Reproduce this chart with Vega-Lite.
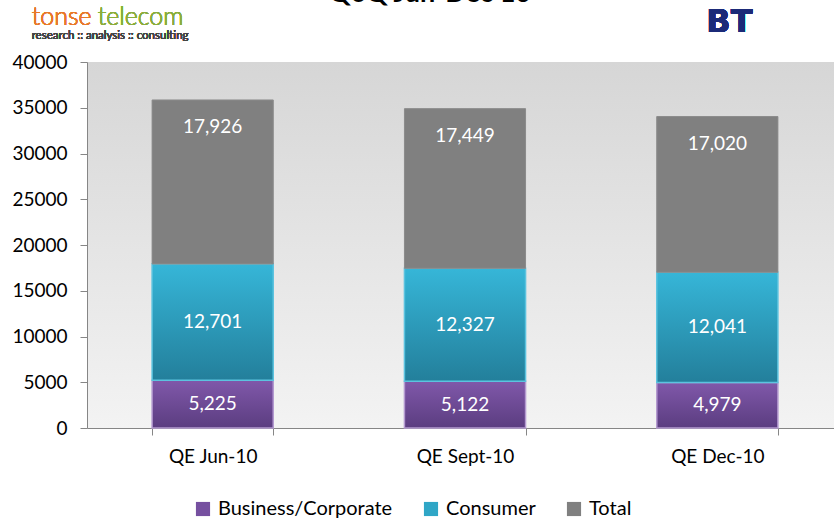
{
  "$schema": "https://vega.github.io/schema/vega-lite/v6.json",
  "autosize": "none",
  "width": 756,
  "height": 366,
  "padding": {"left": 87, "top": 62, "right": 0, "bottom": 91},
  "background": "#ffffff",
  "config": {
    "font": "Lato",
    "view": {
      "stroke": null,
      "fill": {"gradient": "linear", "x1": 0, "y1": 0, "x2": 0, "y2": 1, "stops": [{"offset": 0, "color": "#d6d6d6"}, {"offset": 1, "color": "#f3f3f3"}]}
    }
  },
  "title": {
    "text": "QoQ Jun-Dec 10",
    "fontSize": 27,
    "fontWeight": "bold",
    "color": "#000000",
    "anchor": "middle",
    "frame": "group",
    "baseline": "alphabetic",
    "offset": 0,
    "dy": 24,
    "dx": -35
  },
  "data": {
    "values": [
      {"quarter": "QE Jun-10", "series": "Business/Corporate", "value": 5225},
      {"quarter": "QE Jun-10", "series": "Consumer", "value": 12701},
      {"quarter": "QE Jun-10", "series": "Total", "value": 17926},
      {"quarter": "QE Sept-10", "series": "Business/Corporate", "value": 5122},
      {"quarter": "QE Sept-10", "series": "Consumer", "value": 12327},
      {"quarter": "QE Sept-10", "series": "Total", "value": 17449},
      {"quarter": "QE Dec-10", "series": "Business/Corporate", "value": 4979},
      {"quarter": "QE Dec-10", "series": "Consumer", "value": 12041},
      {"quarter": "QE Dec-10", "series": "Total", "value": 17020}
    ]
  },
  "transform": [
    {"stack": "value", "groupby": ["quarter"], "sort": [{"field": "series"}], "as": ["y0", "y1"]},
    {"calculate": "(datum.y0 + datum.y1) / 2", "as": "mid"}
  ],
  "encoding": {
    "x": {
      "field": "quarter",
      "type": "nominal",
      "sort": ["QE Jun-10", "QE Sept-10", "QE Dec-10"],
      "scale": {"paddingInner": 0.52, "paddingOuter": 0.258},
      "axis": {
        "title": null,
        "labelAngle": 0,
        "labelFontSize": 19,
        "labelColor": "#000000",
        "labelPadding": 12,
        "tickBand": "extent",
        "domainColor": "#868686",
        "tickColor": "#868686",
        "tickSize": 7
      }
    }
  },
  "layer": [
    {
      "mark": {"type": "bar"},
      "encoding": {
        "y": {
          "field": "y0",
          "type": "quantitative",
          "scale": {"domain": [0, 40000], "nice": false},
          "axis": {
            "title": null,
            "values": [0, 5000, 10000, 15000, 20000, 25000, 30000, 35000, 40000],
            "format": "d",
            "grid": false,
            "labelFontSize": 19,
            "labelColor": "#000000",
            "labelPadding": 13,
            "domainColor": "#868686",
            "tickColor": "#868686",
            "tickSize": 7
          }
        },
        "y2": {"field": "y1"},
        "color": {
          "field": "series",
          "type": "nominal",
          "scale": {"domain": ["Business/Corporate", "Consumer", "Total"], "range": ["#7650a0", "#2fa6c6", "#808080"]},
          "legend": {
            "title": null,
            "orient": "none",
            "direction": "horizontal",
            "legendX": 106,
            "legendY": 437,
            "symbolType": "square",
            "symbolSize": 200,
            "symbolStrokeWidth": 0,
            "labelFontSize": 20,
            "labelLimit": 400,
            "labelColor": "#000000",
            "columnPadding": 28,
            "labelOffset": 5
          }
        }
      }
    },
    {
      "transform": [{"filter": "datum.series === 'Business/Corporate'"}],
      "mark": {
        "type": "bar",
        "stroke": "#b49ad0",
        "strokeWidth": 1.5,
        "color": {"gradient": "linear", "x1": 0, "y1": 0, "x2": 0, "y2": 1, "stops": [{"offset": 0, "color": "#8058aa"}, {"offset": 1, "color": "#5b3d80"}]}
      },
      "encoding": {"y": {"field": "y0", "type": "quantitative"}, "y2": {"field": "y1"}}
    },
    {
      "transform": [{"filter": "datum.series === 'Consumer'"}],
      "mark": {
        "type": "bar",
        "stroke": "#5cc3df",
        "strokeWidth": 1.5,
        "color": {"gradient": "linear", "x1": 0, "y1": 0, "x2": 0, "y2": 1, "stops": [{"offset": 0, "color": "#36b6d8"}, {"offset": 1, "color": "#237f9b"}]}
      },
      "encoding": {"y": {"field": "y0", "type": "quantitative"}, "y2": {"field": "y1"}}
    },
    {
      "transform": [{"filter": "datum.series === 'Total'"}],
      "mark": {"type": "bar", "color": "#808080", "stroke": "#8c8c8c", "strokeWidth": 1},
      "encoding": {"y": {"field": "y0", "type": "quantitative"}, "y2": {"field": "y1"}}
    },
    {
      "transform": [{"filter": "datum.series !== 'Total'"}],
      "mark": {"type": "text", "color": "#ffffff", "fontSize": 19, "baseline": "middle", "align": "center"},
      "encoding": {
        "y": {"field": "mid", "type": "quantitative"},
        "text": {"field": "value", "type": "quantitative", "format": ","}
      }
    },
    {
      "transform": [{"filter": "datum.series === 'Total'"}],
      "mark": {"type": "text", "color": "#ffffff", "fontSize": 19, "baseline": "middle", "align": "center", "dy": 27},
      "encoding": {
        "y": {"field": "y1", "type": "quantitative"},
        "text": {"field": "value", "type": "quantitative", "format": ","}
      }
    },
    {
      "mark": {"type": "text", "color": "#e8792a", "fontSize": 25, "fontWeight": 300, "align": "left", "baseline": "alphabetic", "dx": -181},
      "encoding": {"x": {"datum": "QE Jun-10"}, "y": {"datum": 44098}, "text": {"value": "tonse"}}
    },
    {
      "mark": {"type": "text", "color": "#8aad3c", "fontSize": 25, "fontWeight": 300, "align": "left", "baseline": "alphabetic", "dx": -115},
      "encoding": {"x": {"datum": "QE Jun-10"}, "y": {"datum": 44098}, "text": {"value": "telecom"}}
    },
    {
      "mark": {"type": "text", "color": "#444444", "fontSize": 11.5, "align": "left", "baseline": "alphabetic", "dx": -181},
      "encoding": {"x": {"datum": "QE Jun-10"}, "y": {"datum": 42514}, "text": {"value": "research :: analysis :: consulting"}}
    },
    {
      "mark": {"type": "text", "color": "#1b2a78", "font": "DejaVu Sans", "fontSize": 32, "fontWeight": "bold", "align": "left", "baseline": "alphabetic", "dx": -11},
      "encoding": {"x": {"datum": "QE Dec-10"}, "y": {"datum": 43279}, "text": {"value": "BT"}}
    }
  ]
}
